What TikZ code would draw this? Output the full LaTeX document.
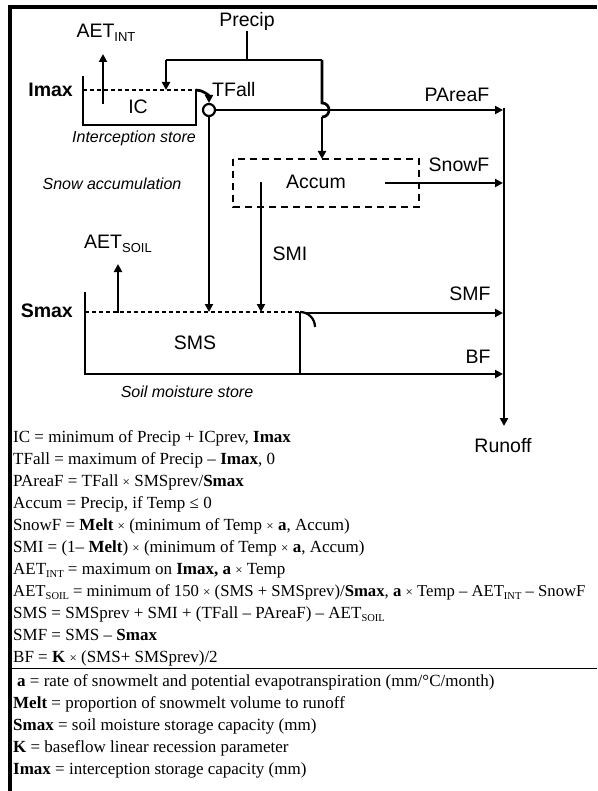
\documentclass[tikz,border=0pt]{standalone}
\usepackage{fontspec}
\setmainfont{Liberation Serif}
\setsansfont{Liberation Sans}
\usetikzlibrary{arrows.meta}
\newcommand{\sbs}[1]{\raisebox{-4.5pt}{\fontsize{13}{13}\selectfont #1}}
\newcommand{\esub}[1]{\raisebox{-3pt}{\fontsize{10.5}{10}\selectfont #1}}
\newcommand{\tms}{{\fontsize{13}{13}\selectfont ×}}
\begin{document}
\begin{tikzpicture}[x=1pt,y=-1pt,
  lbl/.style={font=\sffamily\fontsize{19.5}{22}\selectfont, inner sep=0pt},
  blbl/.style={font=\sffamily\bfseries\fontsize{19.5}{22}\selectfont, inner sep=0pt},
  ital/.style={font=\sffamily\itshape\fontsize{16}{18}\selectfont, inner sep=0pt},
  flow/.style={line width=2.7pt, -{Triangle[length=8pt,width=8pt]}},
  pipe/.style={line width=2.7pt},
  wall/.style={line width=2.2pt},
  level/.style={line width=1.2pt, dash pattern=on 4pt off 3pt},
  snowbox/.style={line width=2pt, dash pattern=on 7pt off 5pt},
  eq/.style={font=\fontsize{17}{20}\selectfont, anchor=base west, inner sep=0pt},
]
\useasboundingbox (0,0) rectangle (597,791);
% frame
\draw[line width=4pt] (10,7) -- (597,7);
\draw[line width=4pt] (10,5) -- (10,791);

% labels
\node[lbl] (precip) at (247,21) {Precip};
\node[lbl] (aetint) at (106,33) {AET\sbs{INT}};
\node[blbl, anchor=east] (imax) at (73,90) {Imax};
\node[lbl] (ic) at (138,107) {IC};
\node[lbl, anchor=west] (tfall) at (212,90) {TFall};
\node[lbl] (pareaf) at (457,95) {PAreaF};
\node[ital] (istore) at (134,138) {Interception store};
\node[ital] (snowacc) at (112,184) {Snow accumulation};
\node[lbl] (accum) at (316,182) {Accum};
\node[lbl] (snowf) at (459,165) {SnowF};
\node[lbl] (aetsoil) at (118,244) {AET\sbs{SOIL}};
\node[lbl] (smi) at (290,254) {SMI};
\node[blbl, anchor=east] (smax) at (73,311) {Smax};
\node[lbl] (smf) at (470,294) {SMF};
\node[lbl] (sms) at (195,343) {SMS};
\node[lbl] (bf) at (478,357) {BF};
\node[ital] (sstore) at (187,392) {Soil moisture store};
\node[lbl] (runoff) at (503,446) {Runoff};

% coordinates
\coordinate (p1) at (247,31);
\coordinate (p2) at (247,60);
\coordinate (pl) at (166,60);
\coordinate (pr) at (322,60);
\coordinate (plend) at (166,90);
\coordinate (hopA) at (322,103);
\coordinate (hopB) at (322,117);
\coordinate (accTop) at (322,159);
\coordinate (circ) at (209,110);
\coordinate (tfs) at (196,90);
\coordinate (tfe) at (209,103);
\coordinate (runTop) at (504,108);
\coordinate (runEnd) at (504,426);
\coordinate (paEnd) at (503,110);
\coordinate (sfStart) at (385,183);
\coordinate (sfEnd) at (503,183);
\coordinate (smiS) at (261,182);
\coordinate (smiE) at (261,312);
\coordinate (tfDown) at (209,312);
\coordinate (aiS) at (103,104);
\coordinate (aiE) at (103,54);
\coordinate (asS) at (118,313);
\coordinate (asE) at (118,264);
\coordinate (smfS) at (300,312);
\coordinate (smfC) at (315,327);
\coordinate (smfEnd) at (503,313);
\coordinate (bfS) at (300,374);
\coordinate (bfEnd) at (503,374);

% precip distribution
\draw[pipe] (p1) -- (p2);
\draw[pipe] (pl) -- (pr);
\draw[flow] (pl) -- (plend);
\draw[pipe] (pr) -- (hopA) .. controls (331.3,103) and (331.3,117) .. (hopB);
\draw[flow] (hopB) -- (accTop);

% interception store
\draw[wall] (83,76) -- (83,125) -- (196,125) -- (196,90);
\draw[level] (83,90) -- (196,90);
\draw[flow] (aiS) -- (aiE);
\draw[flow] (tfs) .. controls (203.2,90) and (209,95.8) .. (tfe);
\draw[wall] (circ) circle[radius=6];
\draw[flow] (215,110) -- (paEnd);
\draw[flow] (209,116) -- (tfDown);

% runoff collector
\draw[line width=2.4pt] (runTop) -- (504,410);
\draw[flow] (504,400) -- (runEnd);

% snow accumulation
\draw[snowbox] (233,159) rectangle (419,207);
\draw[flow] (sfStart) -- (sfEnd);
\draw[flow] (smiS) -- (smiE);

% soil moisture store
\draw[wall] (85,292) -- (85,374) -- (300,374) -- (300,312);
\draw[level] (85,312) -- (300,312);
\draw[flow] (asS) -- (asE);
\draw[wall] (smfS) .. controls (308.3,312) and (315,318.7) .. (smfC);
\draw[flow] (306,313) -- (smfEnd);
\draw[flow] (bfS) -- (bfEnd);

% equations
\node[eq] (e1) at (13,442.5) {IC = minimum of Precip + ICprev, \textbf{Imax}};
\node[eq] (e2) at (13,464.5) {TFall = maximum of Precip – \textbf{Imax}, 0};
\node[eq] (e3) at (13,486.5) {PAreaF = TFall \tms{} SMSprev/\textbf{Smax}};
\node[eq] (e4) at (13,508.5) {Accum = Precip, if Temp ≤ 0};
\node[eq] (e5) at (13,530.5) {SnowF = \textbf{Melt} \tms{} (minimum of Temp \tms{} \textbf{a}, Accum)};
\node[eq] (e6) at (13,552.5) {SMI = (1– \textbf{Melt}) \tms{} (minimum of Temp \tms{} \textbf{a}, Accum)};
\node[eq] (e7) at (13,574.5) {AET\esub{INT} = maximum on \textbf{Imax, a} \tms{} Temp};
\node[eq, font=\fontsize{16.7}{20}\selectfont] (e8) at (13,596.5) {AET\esub{SOIL} = minimum of 150 \tms{} (SMS + SMSprev)/\textbf{Smax}, \textbf{a} \tms{} Temp – AET\esub{INT} – SnowF};
\node[eq] (e9) at (13,618.5) {SMS = SMSprev + SMI + (TFall – PAreaF) – AET\esub{SOIL}};
\node[eq] (e10) at (13,640.5) {SMF = SMS – \textbf{Smax}};
\node[eq] (e11) at (13,662.5) {BF = \textbf{K} \tms{} (SMS+ SMSprev)/2};
\draw[line width=1.8pt] (10,668.5) -- (597,668.5);
\node[eq] (d1) at (17,686.5) {\textbf{a} = rate of snowmelt and potential evapotranspiration (mm/°C/month)};
\node[eq] (d2) at (13,708.5) {\textbf{Melt} = proportion of snowmelt volume to runoff};
\node[eq] (d3) at (13,730.5) {\textbf{Smax} = soil moisture storage capacity (mm)};
\node[eq] (d4) at (13,752.5) {\textbf{K} = baseflow linear recession parameter};
\node[eq] (d5) at (13,774.5) {\textbf{Imax} = interception storage capacity (mm)};
\end{tikzpicture}
\end{document}
